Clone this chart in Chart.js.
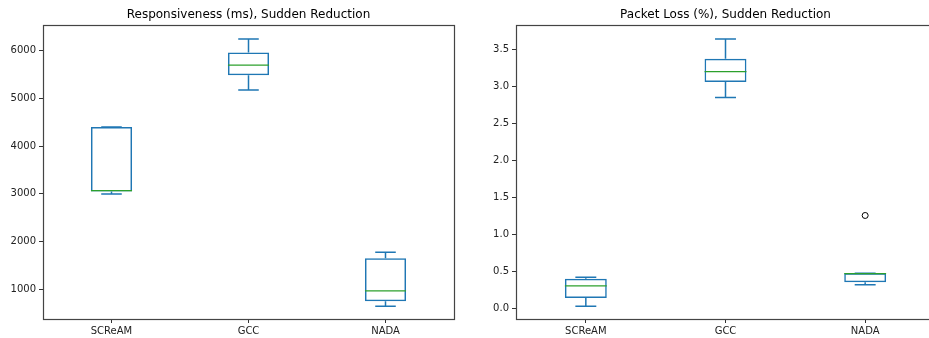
<!DOCTYPE html>
<html>
<head>
<meta charset="utf-8">
<script src="https://cdn.jsdelivr.net/npm/chart.js@4/dist/chart.umd.min.js"></script>
<style>
  html, body { margin: 0; padding: 0; background: #fff; width: 929px; height: 338px; overflow: hidden; position: relative; }
  .wrap { position: absolute; top: 0; height: 338px; }
</style>
</head>
<body>
<div class="wrap" style="left:0px;width:497px;"><canvas id="c1" width="497" height="338"></canvas></div>
<div class="wrap" style="left:470px;width:511px;"><canvas id="c2" width="511" height="338"></canvas></div>
<script>
// ---- Data ----
const categories = ['SCReAM', 'GCC', 'NADA'];

// Responsiveness (ms)
const respLow    = [3000, 5180, 645];
const respQ1     = [3050, 5485, 748];
const respMedian = [3068, 5700, 966];
const respQ3     = [4400, 5965, 1652];
const respHigh   = [4400, 6245, 1777];
const respFliers = [null, null, null];
const respTicks  = [1000, 2000, 3000, 4000, 5000, 6000];

// Packet loss (%)
const lossLow    = [0.027, 2.855, 0.320];
const lossQ1     = [0.140, 3.065, 0.353];
const lossMedian = [0.303, 3.205, 0.470];
const lossQ3     = [0.400, 3.378, 0.475];
const lossHigh   = [0.420, 3.645, 0.475];
const lossFliers = [null, null, 1.257];
const lossTicks  = [0.0, 0.5, 1.0, 1.5, 2.0, 2.5, 3.0, 3.5];

const BLUE = '#1f77b4', GREEN = '#2ca02c';
const FONT = 'DejaVu Sans';
const LW = 1.5;

function boxPlugin(low, med, high) {
  return {
    id: 'boxExtras',
    afterDatasetsDraw(chart) {
      const ctx = chart.ctx, x = chart.scales.x, y = chart.scales.y;
      const step = x.getPixelForValue(1) - x.getPixelForValue(0);
      const boxHalf = step * 0.15, capHalf = step * 0.075;
      ctx.save();
      ctx.lineWidth = LW;
      for (let i = 0; i < categories.length; i++) {
        const cx = x.getPixelForValue(i);
        const q1 = chart.data.datasets[0].data[i][0];
        const q3 = chart.data.datasets[0].data[i][1];
        ctx.strokeStyle = BLUE;
        ctx.beginPath();
        ctx.moveTo(cx, y.getPixelForValue(q3)); ctx.lineTo(cx, y.getPixelForValue(high[i]));
        ctx.moveTo(cx, y.getPixelForValue(q1)); ctx.lineTo(cx, y.getPixelForValue(low[i]));
        ctx.moveTo(cx - capHalf, y.getPixelForValue(high[i])); ctx.lineTo(cx + capHalf, y.getPixelForValue(high[i]));
        ctx.moveTo(cx - capHalf, y.getPixelForValue(low[i])); ctx.lineTo(cx + capHalf, y.getPixelForValue(low[i]));
        ctx.stroke();
        ctx.strokeStyle = GREEN;
        ctx.lineWidth = 1.2;
        ctx.beginPath();
        ctx.moveTo(cx - boxHalf, y.getPixelForValue(med[i])); ctx.lineTo(cx + boxHalf, y.getPixelForValue(med[i]));
        ctx.stroke();
        ctx.lineWidth = LW;
      }
      const a = chart.chartArea;
      ctx.strokeStyle = '#444';
      ctx.lineWidth = 1.2;
      ctx.strokeRect(Math.round(a.left) + 0.5, Math.round(a.top) + 0.5, Math.round(a.right - a.left), Math.round(a.bottom - a.top));
      ctx.restore();
    }
  };
}

function makeChart(id, title, q1, q3, low, med, high, fliers, ticks, ymin, ymax, axisW, decimals) {
  return new Chart(document.getElementById(id), {
    type: 'bar',
    data: {
      labels: categories,
      datasets: [{
        data: categories.map((_, i) => [q1[i], q3[i]]),
        backgroundColor: 'rgba(0,0,0,0)',
        borderColor: BLUE,
        borderWidth: LW,
        borderSkipped: false,
        barPercentage: 0.3,
        categoryPercentage: 1.0
      }, {
        type: 'line',
        data: fliers,
        showLine: false,
        pointRadius: 3,
        pointStyle: 'circle',
        pointBackgroundColor: 'rgba(0,0,0,0)',
        pointBorderColor: '#000',
        pointBorderWidth: 1
      }]
    },
    options: {
      responsive: false,
      animation: false,
      events: [],
      layout: { padding: 0 },
      plugins: {
        legend: { display: false },
        tooltip: { enabled: false },
        title: {
          display: true, text: title, color: '#000',
          font: { family: FONT, size: 12, weight: 'normal', lineHeight: 1.2 },
          padding: { top: 7.5, bottom: 3.1 }
        }
      },
      scales: {
        x: {
          type: 'category', offset: true,
          grid: { offset: false, drawOnChartArea: false, drawTicks: true, tickLength: 4, color: '#333' },
          border: { display: false },
          ticks: { color: '#222', font: { family: FONT, size: 10 }, padding: 2, maxRotation: 0 },
          afterFit(s) { s.height = 19; }
        },
        y: {
          min: ymin, max: ymax,
          grid: { drawOnChartArea: false, drawTicks: true, tickLength: 4, color: '#333' },
          border: { display: false },
          ticks: { color: '#222', font: { family: FONT, size: 10 }, padding: 3,
                   callback: v => decimals ? Number(v).toFixed(decimals) : String(v) },
          afterBuildTicks(s) { s.ticks = ticks.map(v => ({ value: v })); },
          afterFit(s) { s.width = axisW; }
        },
        y2: {
          position: 'right', display: true,
          grid: { display: false }, border: { display: false },
          ticks: { display: false },
          afterFit(s) { s.width = axisW; }
        }
      }
    },
    plugins: [boxPlugin(low, med, high)]
  });
}

makeChart('c1', 'Responsiveness (ms), Sudden Reduction', respQ1, respQ3, respLow, respMedian, respHigh, respFliers, respTicks, 378, 6540, 43, 0);
makeChart('c2', 'Packet Loss (%), Sudden Reduction', lossQ1, lossQ3, lossLow, lossMedian, lossHigh, lossFliers, lossTicks, -0.144, 3.835, 46, 1);
</script>
</body>
</html>
